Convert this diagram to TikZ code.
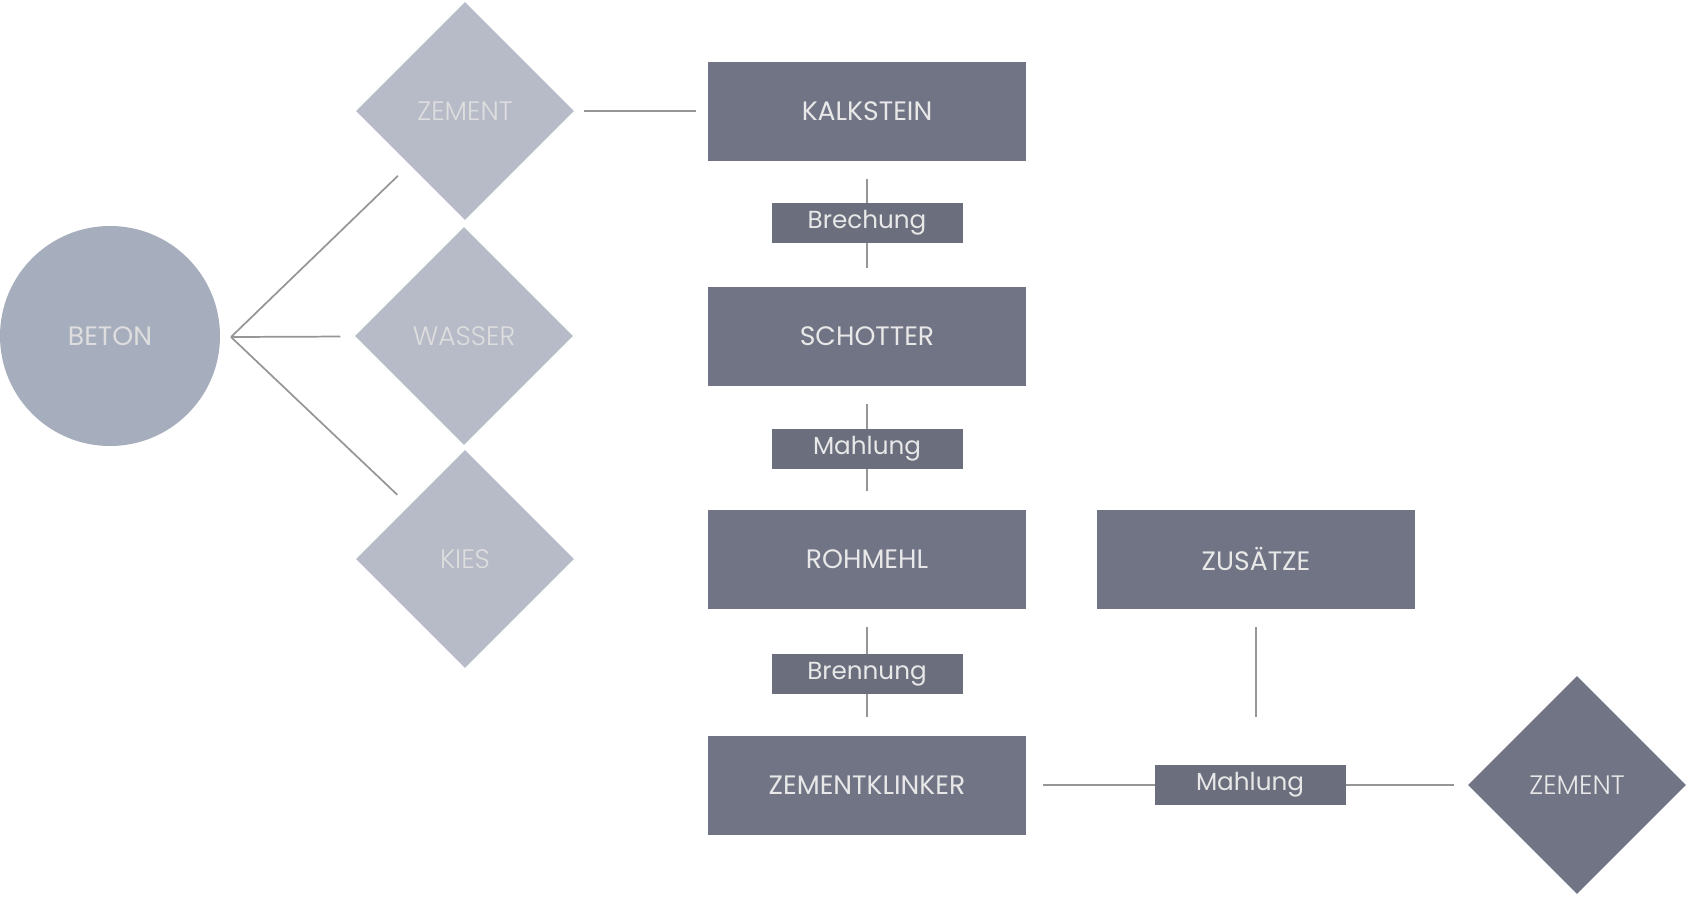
\documentclass[tikz,border=0pt]{standalone}
\usepackage{fontspec}
\setmainfont{Poppins}
\IfFontExistsTF{Poppins Light}{\newfontfamily\thinfont{Poppins Light}}{\newfontfamily\thinfont{Poppins}}
\usetikzlibrary{shapes.geometric}

\definecolor{boxgray}{RGB}{113,116,133}
\definecolor{stepgray}{RGB}{107,110,125}
\definecolor{diagray}{RGB}{183,187,200}
\definecolor{circgray}{RGB}{166,173,189}
\definecolor{linegray}{RGB}{150,150,150}
\definecolor{txtlight}{RGB}{232,232,232}
\definecolor{txtdim}{RGB}{222,222,222}

\tikzset{every picture/.style={line width=0.5pt}}
\tikzset{
  box/.style={fill=boxgray, text=txtlight, inner sep=0pt, minimum width=238.5pt, minimum height=74.25pt, font=\fontsize{20}{24}\selectfont},
  stepbox/.style={fill=stepgray, text=txtlight, inner sep=0pt, minimum width=143.25pt, minimum height=30pt, font=\fontsize{18.5}{22}\selectfont},
  lightdia/.style={diamond, aspect=1, fill=diagray, text=txtdim, inner sep=0pt, minimum width=163.5pt, minimum height=163.5pt, font=\thinfont\fontsize{20}{24}\selectfont},
  darkdia/.style={lightdia, fill=boxgray, text=txtlight},
  circ/.style={circle, fill=circgray, text=txtdim, inner sep=0pt, minimum size=165pt, font=\fontsize{20}{24}\selectfont},
  link/.style={draw=linegray, line width=1.3pt}
}

\begin{document}
\begin{tikzpicture}[x=0.75pt,y=0.75pt,yscale=-1,xscale=1]
    \useasboundingbox (0,0) rectangle (1687,896);

    %Shape: Circle
    \node [circ] (beton) at (110,336) {BETON};
    %Shape: Diamonds
    \node [lightdia] (zem1) at (465,111) {ZEMENT};
    \node [lightdia] (wass) at (464,336) {WASSER};
    \node [lightdia] (kies) at (465,559) {KIES};
    \coordinate (hub) at (231,337);

    %Shape: Rectangles
    \node [box] (kalk) at (867,111) {KALKSTEIN};
    \node [box] (schot) at (867,336) {SCHOTTER};
    \node [box] (rohm) at (867,559) {ROHMEHL};
    \node [box] (klink) at (867,785) {ZEMENTKLINKER};
    \node [box] (zus) at (1256,559) {ZUSÄTZE};
    \node [darkdia] (zem2) at (1577,785) {ZEMENT};

    % Lines
    \draw [link, shorten >=12pt] (hub) -- (zem1);
    \draw [link, shorten >=11pt] (hub) -- (wass);
    \draw [link, shorten >=12pt] (hub) -- (kies);
    \draw [link, shorten <=7.5pt, shorten >=9pt] (zem1) -- (kalk);
    \draw [link, shorten <=13.5pt, shorten >=13.5pt] (kalk) -- (schot);
    \draw [link, shorten <=13.5pt, shorten >=13.5pt] (schot) -- (rohm);
    \draw [link, shorten <=13.5pt, shorten >=13.5pt] (rohm) -- (klink);
    \draw [link, shorten <=12.75pt, shorten >=10.5pt] (klink) -- (zem2);

    % Step Nodes
    \node [stepbox] (brech) at (867,223) {Brechung};
    \node [stepbox] (mahl1) at (867,449) {Mahlung};
    \node [stepbox] (brenn) at (867,674) {Brennung};
    \node [stepbox] (mahl2) at (1250,785) {Mahlung};
    \draw [link, shorten <=13.5pt, shorten >=36pt] (zus.south) -- (zus.south |- mahl2.north);
\end{tikzpicture}
\end{document}
